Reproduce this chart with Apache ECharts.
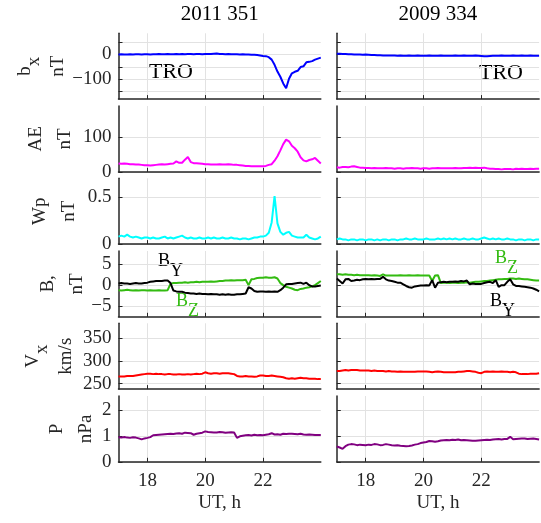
<!DOCTYPE html>
<html>
<head>
<meta charset="utf-8">
<title>TRO</title>
<script src="https://cdn.jsdelivr.net/npm/echarts@6.0.0/dist/echarts.min.js"></script>
<style>
    html, body { margin: 0; padding: 0; background: #fff; }
    #chart { width: 541px; height: 523px; }
</style>
</head>
<body>
<div id="chart"></div>
<script>
// UT, h
var hours = [
    17.0, 17.1, 17.2, 17.3, 17.4, 17.5, 17.6, 17.7, 17.8, 17.9,
    18.0, 18.1, 18.2, 18.3, 18.4, 18.5, 18.6, 18.7, 18.8, 18.9,
    19.0, 19.1, 19.2, 19.3, 19.4, 19.5, 19.6, 19.7, 19.8, 19.9,
    20.0, 20.1, 20.2, 20.3, 20.4, 20.5, 20.6, 20.7, 20.8, 20.9,
    21.0, 21.1, 21.2, 21.3, 21.4, 21.5, 21.6, 21.7, 21.8, 21.9,
    22.0, 22.1, 22.2, 22.3, 22.4, 22.5, 22.6, 22.7, 22.8, 22.9,
    23.0, 23.1, 23.2, 23.3, 23.4, 23.5, 23.6, 23.7, 23.8, 23.9,
    24.0
];
var days = ['2011 351', '2009 334'];

// 2011 351
var bxA = [0,1,0,0,1,0,1,1,0,1, 1,0,1,1,2,1,1,2,1,1, 2,1,2,1,2,2,1,2,2,1, 2,2,2,3,4,2,2,1,2,1,
    1,1,0,1,0,0,-1,-1,-2,-4, -6,-7,-11,-21,-42,-69,-90,-117,-136,-98, -76,-70,-66,-51,-48,-32,-30,-27,-21,-17, -13];
var aeA = [24,23,24,23,22,22,21,21,20,19, 19,18,19,20,21,22,21,22,23,24, 30,26,26,35,43,28,25,25,24,23, 22,22,21,21,21,22,21,21,22,21,
    20,20,19,18,17,17,16,16,16,16, 16,17,20,22,32,45,62,80,93,88, 75,68,58,42,33,30,34,36,40,32, 24];
var wpA = [0.08,0.09,0.08,0.10,0.08,0.07,0.08,0.07,0.06,0.07, 0.07,0.06,0.07,0.06,0.06,0.07,0.08,0.06,0.07,0.06,
    0.07,0.08,0.09,0.07,0.06,0.07,0.06,0.06,0.07,0.06, 0.06,0.07,0.06,0.07,0.06,0.06,0.07,0.06,0.06,0.07,
    0.06,0.06,0.05,0.06,0.06,0.05,0.06,0.07,0.07,0.08, 0.08,0.09,0.12,0.23,0.51,0.22,0.13,0.10,0.12,0.13,
    0.09,0.08,0.07,0.07,0.07,0.10,0.07,0.06,0.05,0.06, 0.08];
var byA = [0.4,0.5,0.4,0.4,0.3,0.4,0.5,0.4,0.4,0.5, 0.6,0.8,0.9,1.0,1.0,1.0,1.1,1.1,0.5,-1.3,
    -1.5,-1.6,-1.6,-1.8,-1.9,-2.0,-2.0,-2.1,-2.0,-2.1, -2.1,-2.2,-2.1,-2.2,-2.2,-2.3,-2.2,-2.3,-2.2,-2.3,
    -2.3,-2.2,-2.2,-2.1,-2.0,-0.5,-0.8,-1.4,-1.6,-1.5, -1.5,-1.6,-1.5,-1.6,-1.5,-1.6,-1.2,-0.6,0.2,0.3,
    0.3,0.4,0.5,0.6,0.3,0.6,0.0,-0.3,-0.3,-0.2, -0.1];
var bzA = [-1.2,-1.3,-1.2,-1.1,-1.2,-1.3,-1.2,-1.3,-1.2,-1.2, -1.3,-1.2,-1.3,-1.3,-1.2,-1.3,-1.3,-1.2,0.3,0.5,
    0.5,0.6,0.6,0.7,0.6,0.7,0.7,0.8,0.7,0.8, 0.8,0.8,0.9,0.8,0.9,1.0,1.0,1.1,1.1,1.2,
    1.1,1.2,1.2,1.2,1.3,0.0,1.4,1.5,1.7,1.8, 1.8,1.9,1.8,1.8,1.9,1.6,0.5,0.0,-0.4,-0.6,
    -0.8,-1.1,-1.2,-0.9,-0.8,-0.6,-0.5,-0.3,0.0,0.5, 1.0];
var vxA = [266,266,266,267,267,267,268,269,270,271, 272,272,271,272,271,271,270,271,271,270, 270,271,270,270,271,270,271,272,271,272,
    275,273,272,273,273,272,273,273,273,272, 271,267,266,266,267,266,266,265,266,268, 268,267,267,268,267,266,265,264,262,261,
    262,261,262,263,262,262,261,261,261,260, 260];
var pA = [0.94,0.93,0.95,0.93,0.92,0.94,0.93,0.90,0.86,0.90, 0.92,0.95,1.02,1.03,1.04,1.05,1.06,1.07,1.08,1.07,
    1.09,1.10,1.08,1.12,1.11,1.10,1.04,1.08,1.10,1.12, 1.17,1.15,1.14,1.13,1.13,1.15,1.14,1.12,1.13,1.14,
    1.13,0.92,0.98,1.00,1.02,1.03,1.01,1.04,1.02,1.03, 1.02,1.04,1.06,1.10,1.05,1.06,1.04,1.08,1.07,1.08,
    1.08,1.07,1.06,1.08,1.05,1.04,1.05,1.04,1.03,1.03, 1.03];

// 2009 334
var bxB = [3,3,2,2,1,1,0,0,0,-1, 0,-1,-2,-2,-3,-3,-4,-4,-4,-4, -4,-5,-4,-5,-5,-4,-5,-5,-4,-5, -5,-5,-4,-5,-5,-5,-4,-5,-5,-5,
    -5,-4,-5,-5,-4,-5,-5,-5,-4,-5, -6,-7,-7,-6,-5,-5,-5,-4,-5,-5, -5,-4,-5,-5,-4,-5,-5,-4,-5,-5, -5];
var aeB = [13,12,14,14,13,15,16,14,12,12, 11,11,10,11,10,10,10,11,10,10, 9,10,10,9,10,10,11,10,10,9, 10,10,9,10,10,11,10,10,10,10,
    10,11,10,10,11,11,12,11,12,11, 11,12,10,9,9,8,8,7,8,8, 8,7,9,8,9,8,8,9,8,9, 9];
var wpB = [0.05,0.06,0.05,0.05,0.04,0.05,0.05,0.04,0.05,0.05, 0.04,0.05,0.05,0.04,0.05,0.04,0.05,0.05,0.04,0.05,
    0.05,0.04,0.05,0.05,0.06,0.05,0.05,0.06,0.05,0.05, 0.05,0.06,0.05,0.05,0.05,0.06,0.05,0.06,0.05,0.06,
    0.05,0.06,0.05,0.05,0.06,0.05,0.05,0.06,0.05,0.05, 0.06,0.07,0.06,0.05,0.06,0.05,0.06,0.05,0.05,0.06,
    0.05,0.05,0.04,0.05,0.05,0.04,0.05,0.05,0.04,0.05, 0.05];
var byB = [1.6,1.0,0.4,1.4,1.5,1.0,1.1,1.3,1.2,1.4, 1.5,1.4,1.5,1.4,1.5,1.5,2.0,1.4,1.1,1.0,
    0.8,0.6,0.6,0.2,-0.2,-0.5,-0.6,-0.3,-0.2,-0.1, -0.1,0.0,-0.1,1.2,-0.6,0.6,0.7,0.8,0.7,0.8,
    0.8,0.9,0.8,1.0,0.9,1.1,0.2,0.4,0.3,0.3, 0.3,0.5,0.7,0.8,0.5,1.2,-0.4,0.0,0.0,0.8,
    1.4,0.2,-0.2,-0.2,-0.3,-0.4,-0.5,-0.6,-0.8,-1.1, -1.5];
var bzB = [2.6,2.6,2.5,2.6,2.5,2.5,2.4,2.5,2.4,2.4, 2.4,2.4,2.3,2.4,2.3,2.2,2.6,2.3,2.3,2.3,
    2.3,2.3,2.4,2.3,2.3,2.4,2.3,2.3,2.4,2.3, 2.3,2.3,2.3,1.0,2.3,2.4,0.5,0.6,0.6,0.5,
    0.6,0.6,0.5,0.6,0.6,0.7,0.6,0.7,0.8,0.8, 0.9,1.0,1.0,1.1,1.2,1.3,1.4,1.4,1.5,1.5,
    1.6,1.6,1.5,1.6,1.5,1.4,1.4,1.3,1.2,1.1, 1.1];
var vxB = [278,278,279,280,279,280,280,280,279,279, 279,279,278,279,278,278,278,277,278,277, 277,276,277,276,276,276,276,276,277,277,
    277,277,276,275,276,277,276,275,275,275, 275,275,276,276,277,278,278,277,276,274, 273,276,277,276,277,276,276,277,276,276,
    275,276,275,272,271,271,271,272,272,272, 273];
var pB = [0.59,0.55,0.50,0.60,0.66,0.68,0.67,0.64,0.66,0.65, 0.64,0.66,0.65,0.68,0.67,0.64,0.65,0.68,0.66,0.64,
    0.63,0.64,0.62,0.61,0.60,0.61,0.63,0.66,0.68,0.72, 0.74,0.76,0.80,0.79,0.77,0.79,0.82,0.83,0.84,0.83,
    0.85,0.84,0.86,0.83,0.84,0.83,0.82,0.81,0.81,0.82, 0.83,0.84,0.85,0.84,0.86,0.87,0.88,0.86,0.88,0.88,
    0.96,0.87,0.88,0.89,0.90,0.90,0.88,0.89,0.90,0.88, 0.86];

// tick positions / labels
var xTicks = [18, 20, 22];
var bxTicks = [-150, -100, -50, 0, 50], bxLabels = [-100, 0];
var aeTicks = [0, 100];
var wpTicks = [0, 0.5];
var bTicks = [-5, 0, 5];
var vxTicks = [250, 300, 350];
var pTicks = [0, 1, 2];

var FONT = 'Liberation Serif';
var INK = '#262626';
var colLeft = [118.5, 336.8];
var colWidth = 202.3;
var rowTop = [33.3, 106, 178.3, 251, 323.3, 396];
var rowHeight = 65.8;

var panels = [
    {name: '{m|b}{s|x}\n{n|nT}', gap: 51, min: -180, max: 85, ticks: bxTicks, labels: bxLabels,
        lines: [[{d: bxA, c: '#0000ff'}], [{d: bxB, c: '#0000ff'}]]},
    {name: '{m|AE}\n{n|nT}', gap: 44, min: 0, max: 190, ticks: aeTicks, labels: aeTicks,
        lines: [[{d: aeA, c: '#ff00ff'}], [{d: aeB, c: '#ff00ff'}]]},
    {name: '{m|Wp}\n{n|nT}', gap: 40, min: 0, max: 0.7, ticks: wpTicks, labels: wpTicks,
        lines: [[{d: wpA, c: '#00ffff'}], [{d: wpB, c: '#00ffff'}]]},
    {name: '{m|B,}\n{n|nT}', gap: 32, min: -7.6, max: 8.2, ticks: bTicks, labels: bTicks,
        lines: [[{d: bzA, c: '#33bb11'}, {d: byA, c: '#000000'}], [{d: bzB, c: '#33bb11'}, {d: byB, c: '#000000'}]]},
    {name: '{m|V}{s|x}\n{n|km/s}', gap: 43, min: 238, max: 383, ticks: vxTicks, labels: vxTicks,
        lines: [[{d: vxA, c: '#ff0000'}], [{d: vxB, c: '#ff0000'}]]},
    {name: '{m|P}\n{n|nPa}', gap: 23, min: 0, max: 2.53, ticks: pTicks, labels: pTicks,
        lines: [[{d: pA, c: '#800080'}], [{d: pB, c: '#800080'}]]}
];

function pairs(vals) {
    return hours.map(function (t, i) { return [t, vals[i]]; });
}
function minus(v) {
    return String(v).replace('-', '\u2212');
}

var grids = [], xAxes = [], yAxes = [], series = [];
panels.forEach(function (p, r) {
    [0, 1].forEach(function (c) {
        var idx = grids.length;
        grids.push({left: colLeft[c], top: rowTop[r], width: colWidth, height: rowHeight, outerBoundsMode: 'none'});
        xAxes.push({
            gridIndex: idx, type: 'value', min: 17, max: 24,
            axisLine: {show: true, onZero: false, lineStyle: {color: INK, width: 1.5}},
            axisTick: {show: true, inside: true, length: 4, customValues: xTicks, lineStyle: {color: INK}},
            axisLabel: {show: r === 5, customValues: xTicks, margin: 10, color: INK, fontFamily: FONT, fontSize: 19},
            splitLine: {show: true, lineStyle: {color: '#e2e2e2', width: 1}},
            name: r === 5 ? 'UT, h' : '', nameLocation: 'middle', nameGap: 32,
            nameTextStyle: {color: INK, fontFamily: FONT, fontSize: 19}
        });
        yAxes.push({
            gridIndex: idx, type: 'value', min: p.min, max: p.max,
            axisLine: {show: true, onZero: false, lineStyle: {color: INK, width: 1.5}},
            axisTick: {show: true, inside: true, length: 4, customValues: p.ticks, lineStyle: {color: INK}},
            axisLabel: {show: c === 0, customValues: p.labels, margin: 7, color: INK, fontFamily: FONT, fontSize: 19,
                formatter: minus},
            splitLine: {show: true, lineStyle: {color: '#e2e2e2', width: 1}},
            name: c === 0 ? p.name : '', nameLocation: 'middle', nameRotate: 90, nameGap: p.gap,
            nameTextStyle: {color: INK, fontFamily: FONT, fontSize: 19,
                rich: {
                    m: {fontFamily: FONT, fontSize: 19, color: INK, lineHeight: 24, verticalAlign: 'top'},
                    s: {fontFamily: FONT, fontSize: 19, color: INK, lineHeight: 28, verticalAlign: 'bottom'},
                    n: {fontFamily: FONT, fontSize: 19, color: INK, lineHeight: 24, verticalAlign: 'bottom'}
                }}
        });
        p.lines[c].forEach(function (l) {
            series.push({
                type: 'line', xAxisIndex: idx, yAxisIndex: idx, data: pairs(l.d),
                showSymbol: false, symbol: 'none', lineStyle: {color: l.c, width: 2}, itemStyle: {color: l.c},
                silent: true
            });
        });
    });
});

function label(text, x, y, color, size) {
    return {type: 'text', left: x, top: y, style: {text: text, fill: color, fontFamily: FONT, fontSize: size,
        rich: {
            m: {fontFamily: FONT, fontSize: size, fill: color, lineHeight: 20, verticalAlign: 'top'},
            s: {fontFamily: FONT, fontSize: size, fill: color, lineHeight: 28, verticalAlign: 'bottom'}
        }}};
}

var chart = echarts.init(document.getElementById('chart'));
chart.setOption({
    animation: false,
    title: days.map(function (d, c) {
        return {text: d, left: colLeft[c] + colWidth / 2, top: 4, textAlign: 'center', padding: 0,
            textStyle: {color: '#000', fontFamily: FONT, fontSize: 21, fontWeight: 'normal'}};
    }),
    grid: grids,
    xAxis: xAxes,
    yAxis: yAxes,
    series: series,
    graphic: [
        label('TRO', 149, 61, '#000', 22),
        label('TRO', 479, 62, '#000', 22),
        label('{m|B}{s|Y}', 158, 252, '#000', 18),
        label('{m|B}{s|Z}', 176, 292, '#33bb11', 18),
        label('{m|B}{s|Z}', 495, 249, '#33bb11', 18),
        label('{m|B}{s|Y}', 490, 292, '#000', 18)
    ]
});
</script>
</body>
</html>
